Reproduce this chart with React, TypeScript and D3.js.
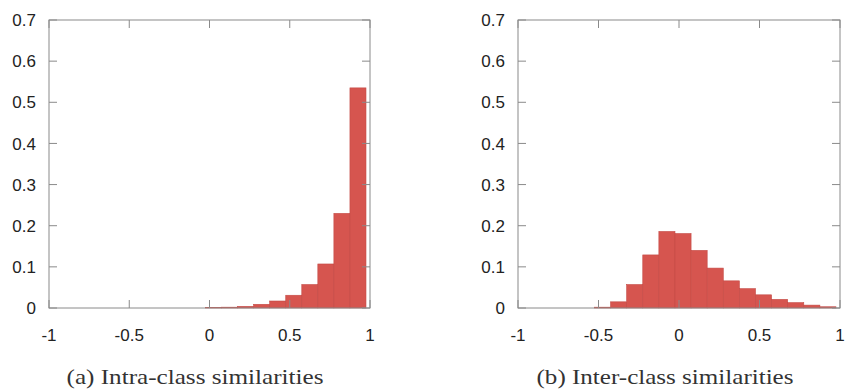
import React from "react";
import * as d3 from "d3";

const binWidth = 0.1;
const intraEdges = [-0.025, 0.075, 0.175, 0.275, 0.375, 0.475, 0.575, 0.675, 0.775, 0.875];
const intraValues = [0.001, 0.002, 0.004, 0.009, 0.017, 0.031, 0.057, 0.107, 0.23, 0.535];
const interEdges = [-0.525, -0.425, -0.325, -0.225, -0.125, -0.025, 0.075, 0.175, 0.275, 0.375, 0.475, 0.575, 0.675, 0.775, 0.875];
const interValues = [0.002, 0.015, 0.057, 0.129, 0.186, 0.181, 0.14, 0.097, 0.066, 0.047, 0.032, 0.021, 0.013, 0.007, 0.003];
const xTicks = [-1, -0.5, 0, 0.5, 1];
const yTicks = [0, 0.1, 0.2, 0.3, 0.4, 0.5, 0.6, 0.7];
const captions = ["(a) Intra-class similarities", "(b) Inter-class similarities"];

const AXIS = "#8a8a8a";
const BAR = "#d6554f";
const BAR_EDGE = "#c44a45";
const TICK_FONT = "'Liberation Sans', Arial, Helvetica, sans-serif";
const CAP_FONT = "'Liberation Serif', 'Times New Roman', serif";

type PanelProps = {
  edges: number[];
  values: number[];
  x0: number;
  x1: number;
  caption: string;
  capX: number;
};

function Panel({ edges, values, x0, x1, caption, capX }: PanelProps) {
  const top = 20;
  const bottom = 308;
  const x = d3.scaleLinear().domain([-1, 1]).range([x0, x1]);
  const y = d3.scaleLinear().domain([0, 0.7]).range([bottom, top]);
  const tl = 8;
  const fmt = (v: number) => (v === 0 ? "0" : String(v));
  return (
    <g>
      {edges.map((e, i) => (
        <rect
          key={i}
          x={x(e)}
          y={y(values[i])}
          width={x(e + binWidth) - x(e)}
          height={y(0) - y(values[i])}
          fill={BAR}
          stroke={BAR_EDGE}
          strokeWidth={0.6}
        />
      ))}
      <rect x={x0} y={top} width={x1 - x0} height={bottom - top} fill="none" stroke={AXIS} strokeWidth={1} />
      {yTicks.map((t) => (
        <g key={"y" + t}>
          <line x1={x0} x2={x0 + tl} y1={y(t)} y2={y(t)} stroke={AXIS} />
          <line x1={x1} x2={x1 - tl} y1={y(t)} y2={y(t)} stroke={AXIS} />
          <text
            x={x0 - 13}
            y={y(t)}
            dy="0.36em"
            textAnchor="end"
            fontFamily={TICK_FONT}
            fontSize={17}
            fill="#222"
          >
            {fmt(t)}
          </text>
        </g>
      ))}
      {xTicks.map((t) => (
        <g key={"x" + t}>
          <line x1={x(t)} x2={x(t)} y1={bottom} y2={bottom - tl} stroke={AXIS} />
          <line x1={x(t)} x2={x(t)} y1={top} y2={top + tl} stroke={AXIS} />
          <text
            x={x(t)}
            y={335}
            dy="0.36em"
            textAnchor="middle"
            fontFamily={TICK_FONT}
            fontSize={17}
            fill="#222"
          >
            {fmt(t)}
          </text>
        </g>
      ))}
      <text
        x={capX}
        y={384}
        textAnchor="middle"
        fontFamily={CAP_FONT}
        fontSize={22}
        fill="#333"
        textLength={257}
        lengthAdjust="spacingAndGlyphs"
      >
        {caption}
      </text>
    </g>
  );
}

export default function App() {
  return (
    <svg
      width={845}
      height={391}
      style={{ position: "absolute", left: 0, top: 0, background: "#fff" }}
    >
      <rect width={845} height={391} fill="#fff" />
      <Panel edges={intraEdges} values={intraValues} x0={49} x1={370} caption={captions[0]} capX={195} />
      <Panel edges={interEdges} values={interValues} x0={518} x1={840} caption={captions[1]} capX={665} />
    </svg>
  );
}
